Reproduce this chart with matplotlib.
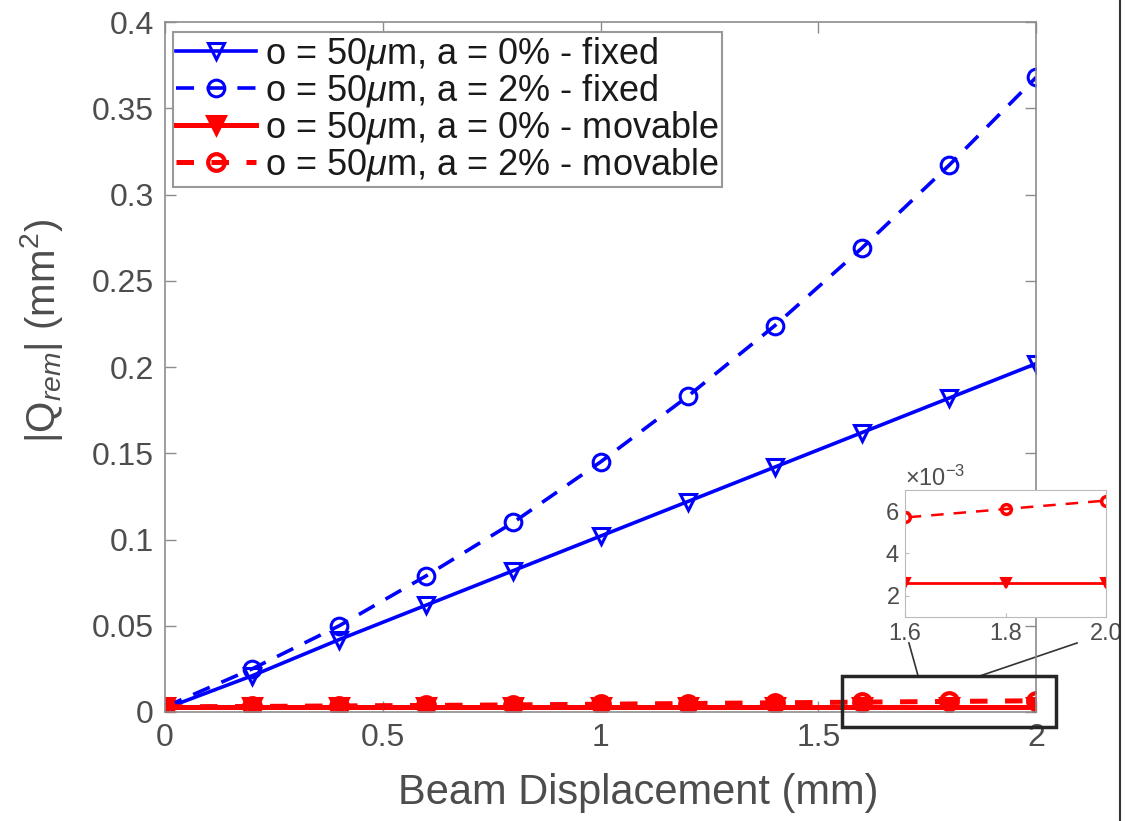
import matplotlib
matplotlib.use("Agg")
import matplotlib.pyplot as plt
import matplotlib.patches as mpatches
from matplotlib.lines import Line2D
from matplotlib.ticker import ScalarFormatter

plt.rcParams["font.family"] = ["Liberation Sans", "DejaVu Sans"]
plt.rcParams["mathtext.fontset"] = "custom"
plt.rcParams["mathtext.rm"] = "Liberation Sans"
plt.rcParams["mathtext.it"] = "Liberation Sans:italic"

# ── Data ─────────────────────────────────────────────────────
disp = [0.0, 0.2, 0.4, 0.6, 0.8, 1.0, 1.2, 1.4, 1.6, 1.8, 2.0]
fixed_a0 = [0.002, 0.021, 0.042, 0.062, 0.082, 0.102, 0.122, 0.142, 0.162, 0.182, 0.202]
fixed_a2 = [0.003, 0.025, 0.050, 0.079, 0.110, 0.145, 0.183, 0.224, 0.269, 0.317, 0.368]
movable_a0 = [0.0026, 0.0026, 0.0026, 0.0026, 0.0026, 0.0026, 0.0026, 0.0026, 0.0026, 0.0026, 0.0026]
movable_a2 = [0.0030, 0.0032, 0.0035, 0.0038, 0.0041, 0.0045, 0.0049, 0.0053, 0.0057, 0.0061, 0.0065]

labels = [
    r"o = 50$\mu$m, a = 0% - fixed",
    r"o = 50$\mu$m, a = 2% - fixed",
    r"o = 50$\mu$m, a = 0% - movable",
    r"o = 50$\mu$m, a = 2% - movable",
]

inset_xticks = [1.6, 1.8, 2.0]
inset_xticklabels = ["1.6", "1.8", "2.0"]

BLUE = "#0000ff"
RED = "#ff0000"
SPINE = "#8c8c8c"
TXT = "#4d4d4d"

fig = plt.figure(figsize=(11.32, 8.21), dpi=100)
ax = fig.add_axes([0.1458, 0.1328, 0.7695, 0.8402])

lw = 2.6
ms = 12
ax.plot(disp, fixed_a0, "-", color=BLUE, lw=lw, marker="v", ms=ms, mfc="none", mew=2.2, label=labels[0])
ax.plot(disp, fixed_a2, "--", color=BLUE, lw=lw, marker="o", ms=ms, mfc="none", mew=2.2,
        dashes=(5, 3.5), label=labels[1])
ax.plot(disp, movable_a0, "-", color=RED, lw=lw + 1, marker="v", ms=ms + 1, mfc=RED, mew=2.2, label=labels[2])
ax.plot(disp, movable_a2, "--", color=RED, lw=lw + 1, marker="o", ms=ms, mfc="none", mew=3,
        dashes=(3.5, 3.5), label=labels[3])

ax.set_xlim(0, 2)
ax.set_ylim(0, 0.4)
ax.set_xticks([0, 0.5, 1, 1.5, 2])
ax.set_xticklabels(["0", "0.5", "1", "1.5", "2"])
ax.set_yticks([0, 0.05, 0.1, 0.15, 0.2, 0.25, 0.3, 0.35, 0.4])
ax.set_yticklabels(["0", "0.05", "0.1", "0.15", "0.2", "0.25", "0.3", "0.35", "0.4"])
ax.tick_params(direction="in", top=True, right=True, length=8, width=1,
               color=SPINE, labelsize=23, labelcolor=TXT, pad=8)
for s in ax.spines.values():
    s.set_color(SPINE)
    s.set_linewidth(1.2)

ax.set_xlabel("Beam Displacement (mm)", fontsize=30, color=TXT)
ax.xaxis.set_label_coords(0.543, -0.088)
ax.set_ylabel(r"|Q$_{rem}$| (mm$^2$)", fontsize=29, color=TXT)
ax.yaxis.set_label_coords(-0.115, 0.552)

leg = ax.legend(loc="upper left", bbox_to_anchor=(0.009, 0.986), fontsize=26,
                handlelength=2.2, handletextpad=0.25, labelspacing=0.0,
                borderpad=0.1, borderaxespad=0, fancybox=False, framealpha=1,
                edgecolor="#999999")
leg.get_frame().set_linewidth(1.5)
for t in leg.get_texts():
    t.set_color("#1a1a1a")

# ── Zoom box and connectors ─────────────────────────────────
rect = mpatches.Rectangle((1.555, -0.0087), 0.491, 0.0296, fill=False,
                          edgecolor="#262626", lw=2.5, clip_on=False, zorder=6)
ax.add_patch(rect)
ax.add_line(Line2D([1.729, 1.708], [0.0209, 0.040], color="#333333", lw=1.2, clip_on=False))
ax.add_line(Line2D([1.871, 2.094], [0.0209, 0.040], color="#333333", lw=1.2, clip_on=False))

# ── Inset ───────────────────────────────────────────────────
axi = fig.add_axes([0.7995, 0.2485, 0.1776, 0.1547])
axi.plot(disp, movable_a2, "--", color=RED, lw=1.8, marker="o", ms=7, mfc="none", mew=2.5, dashes=(5, 4))
axi.plot(disp, movable_a0, "-", color=RED, lw=2, marker="v", ms=7, mfc=RED, mew=1.5)
axi.set_xlim(1.6, 2.0)
axi.set_ylim(0.001, 0.007)
axi.set_xticks(inset_xticks)
axi.set_xticklabels(inset_xticklabels)
axi.set_yticks([0.002, 0.004, 0.006])
fmt = ScalarFormatter(useMathText=True)
fmt.set_powerlimits((-2, 2))
axi.yaxis.set_major_formatter(fmt)
axi.yaxis.get_offset_text().set_fontsize(17)
axi.yaxis.get_offset_text().set_color(TXT)
axi.tick_params(direction="in", length=3, color="#bbbbbb", labelsize=17, labelcolor=TXT, pad=4)
for s in axi.spines.values():
    s.set_color("#bbbbbb")

# right-hand border line of the original screenshot
fig.add_artist(Line2D([0.9894, 0.9894], [0, 1], color="#333333", lw=1.5))

fig.savefig("out.png", dpi=100)
